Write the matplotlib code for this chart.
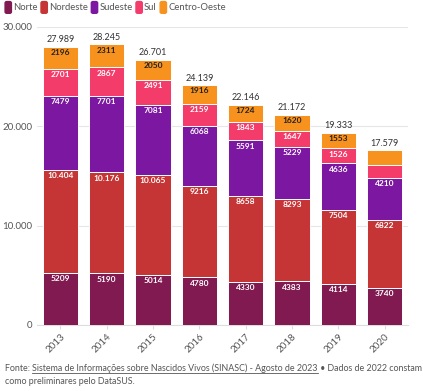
import numpy as np
import matplotlib.pyplot as plt
from matplotlib.patches import FancyBboxPatch
from matplotlib.lines import Line2D

years = ['2013', '2014', '2015', '2016', '2017', '2018', '2019', '2020']
norte = [5209, 5190, 5014, 4780, 4330, 4383, 4114, 3740]
nordeste = [10404, 10176, 10065, 9216, 8658, 8293, 7504, 6822]
sudeste = [7479, 7701, 7081, 6068, 5591, 5229, 4636, 4210]
sul = [2701, 2867, 2491, 2159, 1843, 1647, 1526, 1340]
centro_oeste = [2196, 2311, 2050, 1916, 1724, 1620, 1553, 1467]

regions = ['Norte', 'Nordeste', 'Sudeste', 'Sul', 'Centro-Oeste']
series = [norte, nordeste, sudeste, sul, centro_oeste]
colors = ['#801a50', '#c63535', '#7c17a1', '#f43c6b', '#f8921e']
text_colors = ['white', 'white', 'white', 'white', '#222222']
hide_label = {(3, 7), (4, 7)}  # small segments without labels


def fmt(v):
    if v >= 10000:
        return f'{v:,}'.replace(',', '.')
    return str(v)


plt.rcParams['font.family'] = ['Lato', 'DejaVu Sans']
fig = plt.figure(figsize=(4.23, 3.91), dpi=100)
ax = fig.add_axes([0.087, 0.169, 0.878, 0.762])

x = np.arange(len(years))
bottom = np.zeros(len(years))
for k, (name, vals, col) in enumerate(zip(regions, series, colors)):
    vals = np.array(vals, dtype=float)
    ax.bar(x, vals, 0.76, bottom=bottom, color=col, edgecolor='white',
           linewidth=0.7, zorder=3)
    for i, v in enumerate(vals):
        if (k, i) in hide_label:
            continue
        ax.text(x[i], bottom[i] + v - 220, fmt(int(v)), ha='center', va='top',
                fontsize=6, fontweight='bold', color=text_colors[k], zorder=4)
    bottom += vals

for i, t in enumerate(bottom):
    ax.text(x[i], t + 250, fmt(int(t)), ha='center', va='bottom',
            fontsize=6.5, color='#333333', zorder=4)

ax.set_xlim(-0.51, 7.51)
ax.set_ylim(0, 30000)
ax.set_yticks([0, 10000, 20000, 30000])
ax.set_yticklabels(['0', '10.000', '20.000', '30.000'])
ax.set_xticks(x)
ax.set_xticklabels(years, rotation=45, ha='right', rotation_mode='anchor')
ax.tick_params(axis='y', length=0, labelsize=7, labelcolor='#555555', pad=3)
ax.tick_params(axis='x', length=3, color='#dddddd', labelsize=7,
               labelcolor='#555555', pad=2)
ax.grid(axis='y', color='#e6e6e6', linewidth=0.8, zorder=0)
for s in ['top', 'right', 'left']:
    ax.spines[s].set_visible(False)
ax.spines['bottom'].set_color('#dddddd')

# legend at the top
lx = 0.012
for name, col in zip(regions, colors):
    fig.patches.append(FancyBboxPatch((lx, 0.966), 0.015, 0.03,
                                      boxstyle='round,pad=0,rounding_size=0.004',
                                      transform=fig.transFigure, color=col))
    t = fig.text(lx + 0.019, 0.981, name, fontsize=6.8, color='#555555', va='center')
    fig.canvas.draw()
    bb = t.get_window_extent().transformed(fig.transFigure.inverted())
    lx = bb.x1 + 0.008

# footer with underlined source
fig.canvas.draw()
inv = fig.transFigure.inverted()
fy = 0.051
parts = [('Fonte: ', False), ('Sistema de Informações sobre Nascidos Vivos (SINASC) - Agosto de 2023', True),
         (' • Dados de 2022 constam', False)]
fx = 0.012
for txt, under in parts:
    t = fig.text(fx, fy, txt, fontsize=6.4, color='#555555', va='baseline')
    fig.canvas.draw()
    bb = t.get_window_extent().transformed(inv)
    if under:
        fig.add_artist(Line2D([bb.x0, bb.x1], [fy - 0.006, fy - 0.006],
                              transform=fig.transFigure, color='#555555', linewidth=0.6))
    fx = bb.x1
fig.text(0.012, fy - 0.034, 'como preliminares pelo DataSUS.', fontsize=6.4,
         color='#555555', va='baseline')

fig.savefig('out.png', dpi=100)
